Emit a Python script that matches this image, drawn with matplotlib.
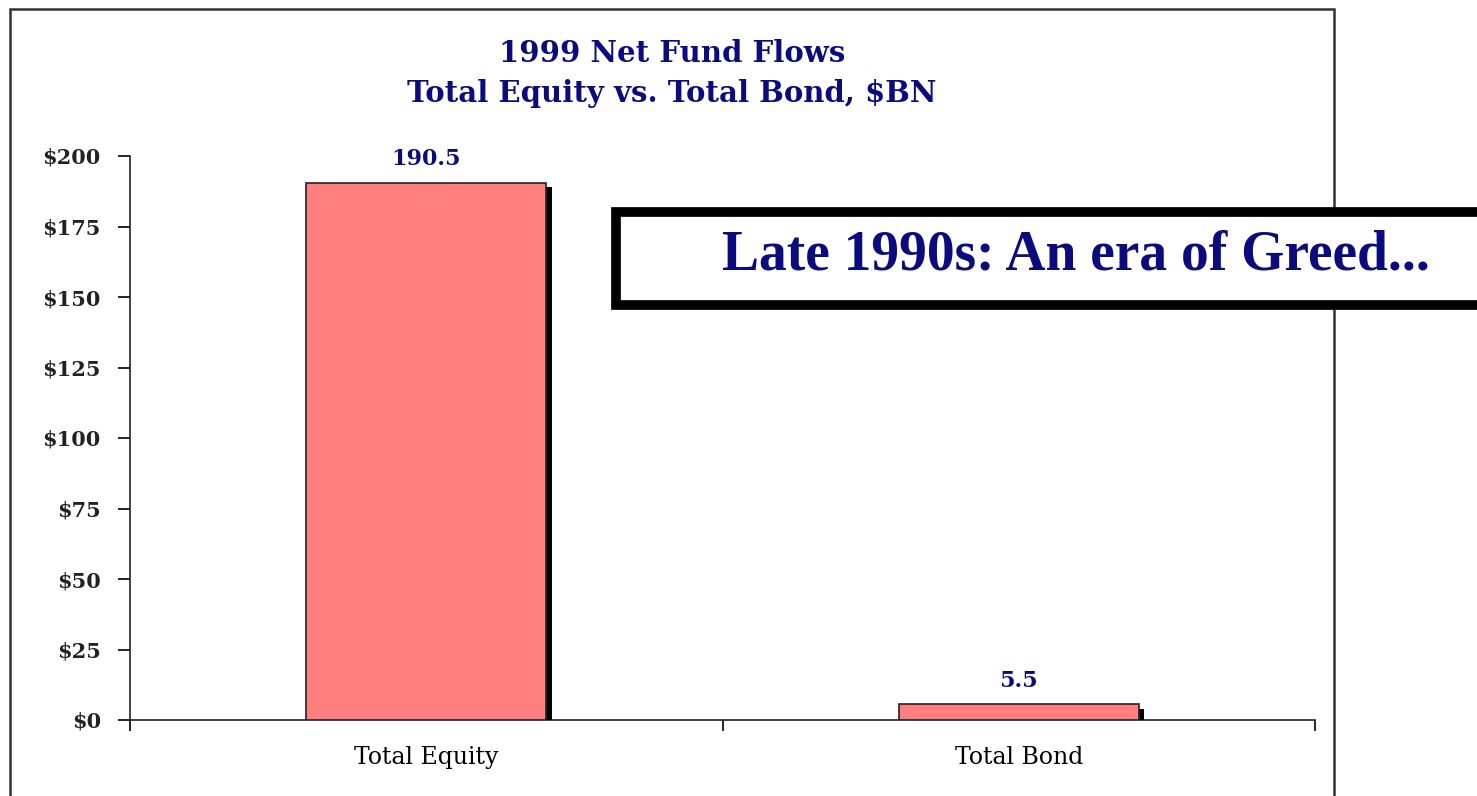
import matplotlib
matplotlib.use("Agg")
import matplotlib.pyplot as plt
import matplotlib.patheffects as pe
from matplotlib.patches import Rectangle
import matplotlib.ticker as mticker

# ─── DATA ────────────────────────────────────────────────────────────────────
categories = ["Total Equity", "Total Bond"]
flows_bn = [190.5, 5.5]
value_labels = ["190.5", "5.5"]
y_ticks = [0, 25, 50, 75, 100, 125, 150, 175, 200]

NAVY = "#0B0B80"
BAR = "#FF7E7E"
SERIF = ["DejaVu Serif"]

W, H = 1477, 796
fig = plt.figure(figsize=(W / 100, H / 100), dpi=100)
fig.patch.set_facecolor("white")

# outer chart frame (runs off the bottom of the picture)
fig.add_artist(Rectangle((10 / W, -0.05), (1334 - 10) / W, 1.05 - 9 / H,
                         transform=fig.transFigure, fill=False,
                         edgecolor="#333333", linewidth=1.8))

ax = fig.add_axes([130 / W, 1 - 720 / H, (1315 - 130) / W, (720 - 156) / H])

x = range(len(categories))
bars = ax.bar(x, flows_bn, width=0.405, color=BAR, edgecolor="#222222",
              linewidth=1.2, zorder=3)
for b in bars:
    b.set_path_effects([pe.SimplePatchShadow(offset=(4, -3), shadow_rgbFace="black", alpha=1.0),
                        pe.Normal()])

for xi, v, lab in zip(x, flows_bn, value_labels):
    ax.text(xi, v + 4.5, lab, ha="center", va="bottom", color=NAVY,
            fontsize=16, fontweight="bold", family=SERIF)

ax.set_xlim(-0.5, 1.5)
ax.set_ylim(0, 200)
ax.set_yticks(y_ticks)
ax.yaxis.set_major_formatter(mticker.FuncFormatter(lambda v, _: f"${v:,.0f}"))
ax.set_xticks([-0.5, 0.5, 1.5])
ax.set_xticklabels([])
ax.set_xticks(list(x), minor=True)
ax.set_xticklabels(categories, minor=True)
ax.tick_params(axis="x", which="major", direction="out", length=8, width=1.2)
ax.tick_params(axis="x", which="minor", length=0, pad=19, labelsize=17)
ax.tick_params(axis="y", direction="out", length=9, width=1.2, labelsize=15, pad=12)
for lab in ax.get_yticklabels() + ax.get_xticklabels(minor=True):
    lab.set_family(SERIF)
for lab in ax.get_yticklabels():
    lab.set_fontweight("bold")
    lab.set_color("#222222")

for s in ["top", "right"]:
    ax.spines[s].set_visible(False)
for s in ["left", "bottom"]:
    ax.spines[s].set_linewidth(1.2)
    ax.spines[s].set_color("#222222")

# title
fig.text(672 / W, 1 - 53 / H, "1999 Net Fund Flows", ha="center", va="center",
         color=NAVY, fontsize=21, fontweight="bold", family=SERIF)
fig.text(672 / W, 1 - 93 / H, "Total Equity vs. Total Bond, $BN", ha="center", va="center",
         color=NAVY, fontsize=21, fontweight="bold", family=SERIF)

# callout box
fig.add_artist(Rectangle((616 / W, 1 - 305 / H), (1500 - 616) / W, (305 - 212) / H,
                         transform=fig.transFigure, facecolor="white",
                         edgecolor="black", linewidth=7, clip_on=False, zorder=5))
fig.text(1076 / W, 1 - 256 / H, "Late 1990s: An era of Greed...", ha="center", va="center",
         color=NAVY, fontsize=40, fontweight="bold", family=["Liberation Serif"], zorder=6)

fig.savefig("out.png", dpi=100)
